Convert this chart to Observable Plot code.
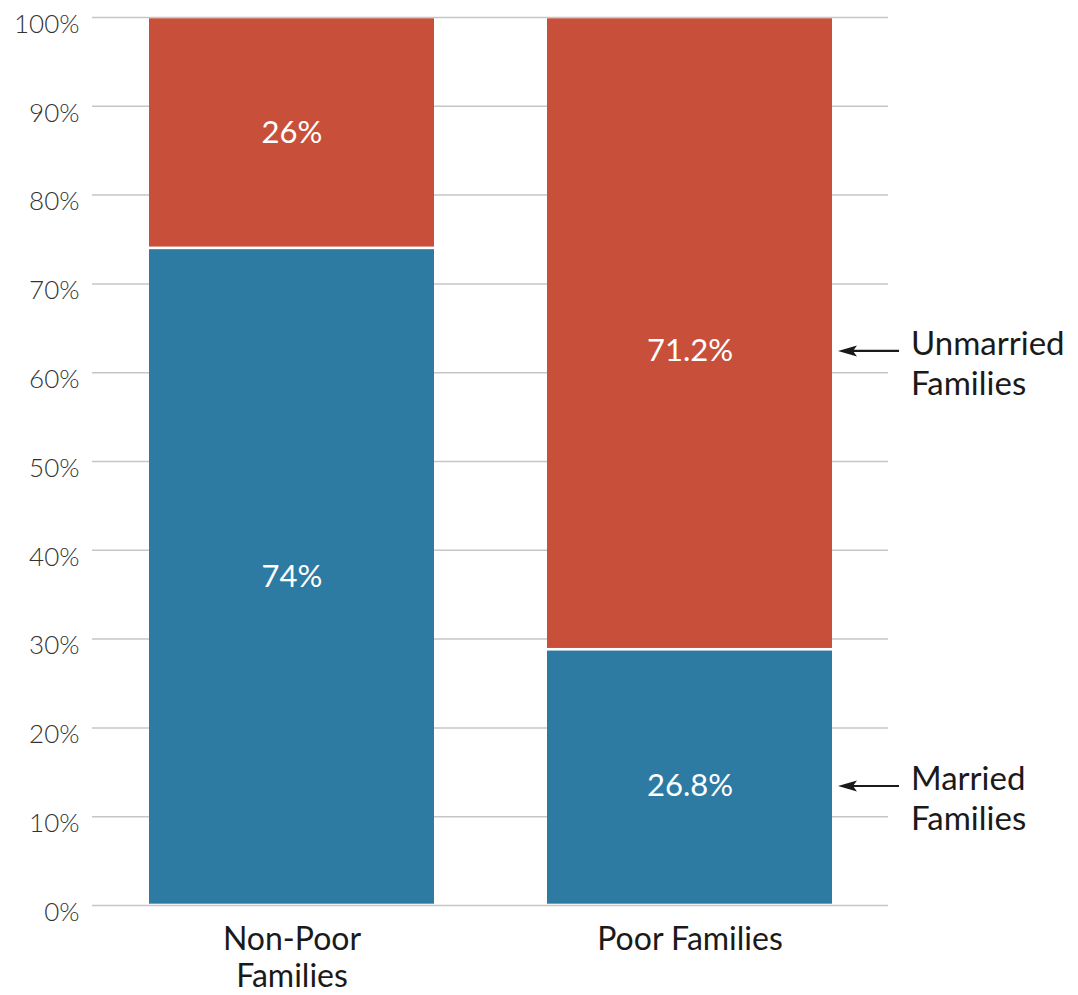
<!DOCTYPE html>
<html>
<head>
<meta charset="utf-8">
<script src="https://cdn.jsdelivr.net/npm/d3@7"></script>
<script src="https://cdn.jsdelivr.net/npm/@observablehq/plot@0.6"></script>
<style>
  html, body { margin: 0; padding: 0; background: #fff; }
  #chart svg { display: block; }
</style>
</head>
<body>
<div id="chart"></div>
<script>
// ---- data ----
const categories = ["Non-Poor Families", "Poor Families"];
const categoryLabels = ["Non-Poor\nFamilies", "Poor Families"];
const seriesNames = ["Married Families", "Unmarried Families"];
const married = [74, 28.8];
const unmarried = [26, 71.2];
const marriedLabels = ["74%", "26.8%"];
const unmarriedLabels = ["26%", "71.2%"];
const yTicks = [0, 10, 20, 30, 40, 50, 60, 70, 80, 90, 100];
const annotationCategory = "Poor Families";
const annotationTexts = ["Married\nFamilies", "Unmarried\nFamilies"];

// ---- table ----
const rows = [];
categories.forEach((c, i) => {
  rows.push({category: c, series: seriesNames[0], value: married[i],
             label: marriedLabels[i], labelValue: parseFloat(marriedLabels[i])});
  rows.push({category: c, series: seriesNames[1], value: unmarried[i],
             label: unmarriedLabels[i], labelValue: parseFloat(unmarriedLabels[i])});
});
const annoRows = rows.filter(d => d.category === annotationCategory)
  .map((d, i) => ({...d, note: annotationTexts[i]}));

const colors = ["#2d7ba3", "#c8503b"];
const FONT = "Lato, 'Open Sans', sans-serif";

// custom mark: arrows pointing at the Poor Families labels
const arrows = (index, scales, values, dimensions) => {
  const g = d3.create("svg:g");
  const bw = typeof scales.x.bandwidth === "function" ? scales.x.bandwidth() : 284;
  const x0 = scales.x(annotationCategory) + bw;
  let base = 0;
  annoRows.forEach(d => {
    const y = scales.y(base + d.labelValue / 2);
    base += d.labelValue;
    const xTip = x0 + 6, xEnd = x0 + 67;
    g.append("line").attr("x1", xTip + 15).attr("x2", xEnd)
      .attr("y1", y).attr("y2", y).attr("stroke", "#1a1a1a").attr("stroke-width", 2.2);
    g.append("path")
      .attr("d", `M${xTip},${y} L${xTip + 19},${y - 5.5} L${xTip + 15},${y} L${xTip + 19},${y + 5.5} Z`)
      .attr("fill", "#1a1a1a");
  });
  return g.node();
};

const plot = Plot.plot({
  width: 1078,
  height: 995,
  marginTop: 17,
  marginBottom: 90,
  marginLeft: 92,
  marginRight: 190,
  style: {fontFamily: FONT, background: "#fff", overflow: "visible"},
  x: {domain: categories, paddingInner: 0.285, paddingOuter: 0.1425, label: null},
  y: {domain: [0, 100], label: null},
  color: {domain: seriesNames, range: colors},
  marks: [
    Plot.gridY({ticks: yTicks, stroke: "#c6c6c6", strokeOpacity: 1, strokeWidth: 1.5}),
    Plot.axisY({
      ticks: yTicks, tickFormat: d => d + "%", tickSize: 0, tickPadding: 13,
      dy: 7, fontSize: 26, fontWeight: 300, fill: "#333", label: null
    }),
    Plot.axisX({
      tickSize: 0, tickPadding: 18, fontSize: 32, fill: "#1a1a1a", lineHeight: 1.16,
      tickFormat: d => categoryLabels[categories.indexOf(d)], label: null, lineAnchor: "top"
    }),
    Plot.barY(rows, Plot.stackY({
      x: "category", y: "value", fill: "series", order: seriesNames,
      insetTop: 1.3, insetBottom: 1.3
    })),
    Plot.text(rows, Plot.stackY({
      x: "category", y: "labelValue", z: "series", order: seriesNames, text: "label",
      fill: "white", fontSize: 31
    })),
    arrows,
    Plot.text(annoRows, Plot.stackY({
      x: "category", y: "labelValue", z: "series", order: seriesNames, text: "note",
      textAnchor: "start", dx: 221, dy: 11, fontSize: 33, fill: "#1a1a1a", lineHeight: 1.2
    }))
  ]
});

document.getElementById("chart").appendChild(plot);
</script>
</body>
</html>
